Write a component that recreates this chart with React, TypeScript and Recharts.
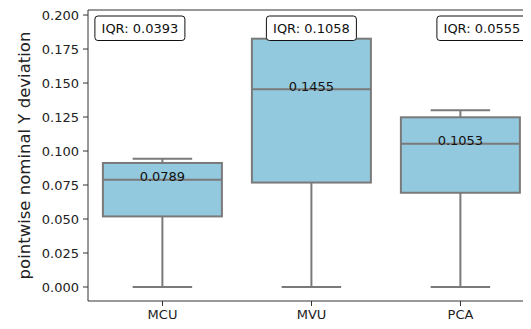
import { Bar, ComposedChart, ReferenceLine, XAxis, YAxis } from 'recharts'

const categories = ['MCU', 'MVU', 'PCA']
const whiskerLow = [0, 0, 0]
const q1 = [0.0519, 0.0768, 0.0693]
const medians = [0.0789, 0.1455, 0.1053]
const q3 = [0.0912, 0.1826, 0.1248]
const whiskerHigh = [0.0943, 0.1826, 0.1299]
const yTicks = [0, 0.025, 0.05, 0.075, 0.1, 0.125, 0.15, 0.175, 0.2]

const Y_MIN = -0.0103
const Y_MAX = 0.2037

const FONT = '"DejaVu Sans", sans-serif'
const BOX_FILL = '#93c9de'
const LINE = '#7a7a7a'
const SPINE = '#333'

const data = categories.map((name, i) => ({
  name,
  box: [q1[i], q3[i]],
  low: whiskerLow[i],
  q1: q1[i],
  median: medians[i],
  q3: q3[i],
  high: whiskerHigh[i],
}))

type Align = 'start' | 'middle' | 'end'

// digits in DejaVu Sans share one width, so every tag is the same size
const TAG_W = 90
const TAG_H = 24.5

function IqrTag({ x, y, align, text }: { x: number; y: number; align: Align; text: string }) {
  // x is the outer edge of the tag for start/end, the centre for middle
  const left = align === 'start' ? x : align === 'end' ? x - TAG_W : x - TAG_W / 2
  return (
    <g>
      <rect x={left} y={y} width={TAG_W} height={TAG_H} rx={3} fill="#fff" stroke="#111" strokeWidth={1} />
      <text x={left + TAG_W / 2} y={y + 17} textAnchor="middle" fontSize={13} fontFamily={FONT} fill="#111">
        {text}
      </text>
    </g>
  )
}

function BoxShape(props: any) {
  const { x, y, width, height, payload, index } = props
  const top = Math.min(y, y + height)
  const h = Math.abs(height)
  const ppu = h / (payload.q3 - payload.q1)
  const toPx = (v: number) => top + (payload.q3 - v) * ppu
  const cx = x + width / 2
  const cap = width / 4
  const plotTop = toPx(Y_MAX)
  const iqr = (payload.q3 - payload.q1).toFixed(4)
  const last = categories.length - 1
  const align: Align = index === 0 ? 'start' : index === last ? 'end' : 'middle'
  const tagX = align === 'start' ? x - 8 : align === 'end' ? x + width + 7 : cx

  return (
    <g>
      <line x1={cx} x2={cx} y1={toPx(payload.q3)} y2={toPx(payload.high)} stroke={LINE} strokeWidth={2} />
      <line x1={cx} x2={cx} y1={toPx(payload.q1)} y2={toPx(payload.low)} stroke={LINE} strokeWidth={2} />
      <line x1={cx - cap} x2={cx + cap} y1={toPx(payload.high)} y2={toPx(payload.high)} stroke={LINE} strokeWidth={2} />
      <line x1={cx - cap} x2={cx + cap} y1={toPx(payload.low)} y2={toPx(payload.low)} stroke={LINE} strokeWidth={2} />
      <rect x={x} y={top} width={width} height={h} fill={BOX_FILL} stroke={LINE} strokeWidth={2} />
      <line x1={x} x2={x + width} y1={toPx(payload.median)} y2={toPx(payload.median)} stroke={LINE} strokeWidth={2} />
      <text x={cx} y={toPx(payload.median) + 1.5} textAnchor="middle" fontSize={13} fontFamily={FONT} fill="#111">
        {payload.median.toFixed(4)}
      </text>
      <IqrTag x={tagX} y={plotTop + 6} align={align} text={`IQR: ${iqr}`} />
    </g>
  )
}

function YLabel(props: any) {
  const vb = props.viewBox ?? { x: 0, y: 10, width: 88, height: 291 }
  const cx = 24
  const cy = vb.y + vb.height / 2
  return (
    <text
      x={cx}
      y={cy}
      transform={`rotate(-90, ${cx}, ${cy})`}
      textAnchor="middle"
      dominantBaseline="central"
      fontSize={16.5}
      fontFamily={FONT}
      fill="#222"
    >
      pointwise nominal Y deviation
    </text>
  )
}

export default function App() {
  return (
    <div style={{ margin: -8, width: 531, height: 329, overflow: 'hidden', background: '#fff' }}>
      <ComposedChart
        width={535}
        height={329}
        data={data}
        margin={{ top: 10, right: 0, left: 0, bottom: 0 }}
        barCategoryGap="10%"
      >
        <XAxis
          dataKey="name"
          type="category"
          height={28}
          stroke={SPINE}
          tickSize={5}
          tickMargin={4}
          tick={{ fontSize: 13, fontFamily: FONT, fill: '#222' }}
        />
        <YAxis
          type="number"
          domain={[Y_MIN, Y_MAX]}
          ticks={yTicks}
          allowDataOverflow
          width={88}
          stroke={SPINE}
          tickSize={5}
          tickMargin={4}
          tickFormatter={(v: number) => v.toFixed(3)}
          tick={{ fontSize: 13, fontFamily: FONT, fill: '#222' }}
          label={<YLabel />}
        />
        <ReferenceLine y={Y_MAX} stroke={SPINE} strokeWidth={1} />
        <Bar dataKey="box" shape={<BoxShape />} isAnimationActive={false} />
      </ComposedChart>
    </div>
  )
}
